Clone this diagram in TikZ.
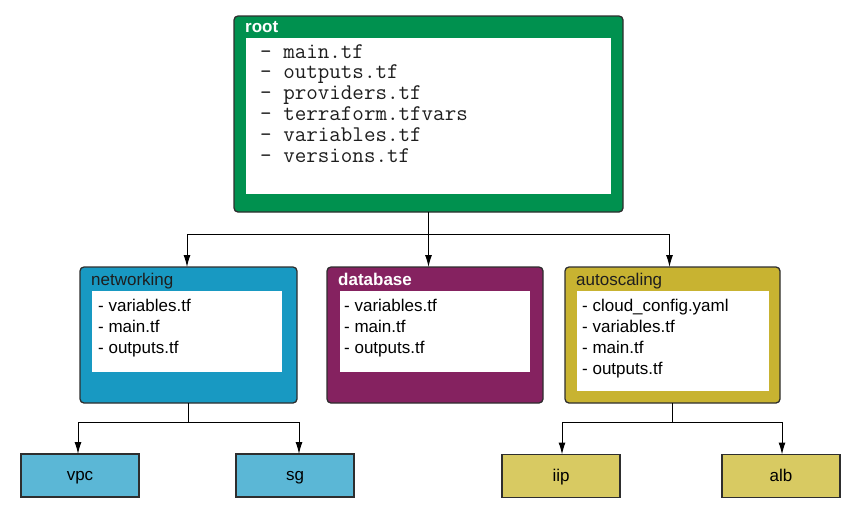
\documentclass[tikz,border=0pt]{standalone}
\usepackage{fontspec}
\setmainfont{Liberation Sans}
\usetikzlibrary{arrows.meta}
\definecolor{rootgreen}{HTML}{00914F}
\definecolor{netblue}{HTML}{1899C2}
\definecolor{dbpurple}{HTML}{852260}
\definecolor{autoolive}{HTML}{C8B331}
\definecolor{leafblue}{HTML}{5BB7D6}
\definecolor{leafolive}{HTML}{D8CA62}
\definecolor{bordergray}{HTML}{2E2E2E}
\definecolor{darktext}{HTML}{1E1E1E}
\begin{document}
\begin{tikzpicture}[x=1pt,y=-1pt,
  module/.style={draw=bordergray, line width=1.3pt, rounded corners=4pt, inner sep=0pt, outer sep=0pt, anchor=north west},
  panel/.style={fill=white, inner sep=0pt, outer sep=0pt, anchor=north west},
  ttl/.style={inner sep=0pt, anchor=base west, font=\fontsize{17}{20}\selectfont},
  sans/.style={inner sep=0pt, anchor=base west, text=black, font=\fontsize{17}{20}\selectfont},
  mono/.style={inner sep=0pt, anchor=base west, text=darktext, font=\ttfamily\fontsize{22.4}{24}\selectfont},
  leaf/.style={draw=bordergray, line width=1.3pt, minimum width=118pt, minimum height=43pt, inner sep=0pt, outer sep=0pt, text height=12.5pt, text depth=2pt, text=black, font=\fontsize{17}{20}\selectfont},
  conn/.style={draw=black, line width=1pt},
  arr/.style={conn, -{Latex[length=12pt,width=7pt]}}
]
\useasboundingbox (0,0) rectangle (853,509);

% root
\node[module, fill=rootgreen, minimum width=389pt, minimum height=196pt] (root) at (234,16) {};
\node[panel, minimum width=365pt, minimum height=156pt] (rootin) at (246,38) {};
\node[ttl, text=white, font=\bfseries\fontsize{17}{20}\selectfont] (roott) at (245,32) {root};
\foreach \t [count=\i] in {main.tf, outputs.tf, providers.tf, terraform.tfvars, variables.tf, versions.tf}
  \node[mono] (rl\i) at (260,{58+20.8*(\i-1)}) {- \t};

% networking
\node[module, fill=netblue, minimum width=217pt, minimum height=136pt] (net) at (80,267) {};
\node[panel, minimum width=190pt, minimum height=81pt] (netin) at (92,291) {};
\node[ttl, text=darktext] (nett) at (91,285) {networking};
\foreach \t [count=\i] in {variables.tf, main.tf, outputs.tf}
  \node[sans] (nl\i) at (98,{311+21*(\i-1)}) {- \t};

% database
\node[module, fill=dbpurple, minimum width=216pt, minimum height=136pt] (db) at (327,267) {};
\node[panel, minimum width=190pt, minimum height=81pt] (dbin) at (340,291) {};
\node[ttl, text=white, font=\bfseries\fontsize{17}{20}\selectfont] (dbt) at (338,285) {database};
\foreach \t [count=\i] in {variables.tf, main.tf, outputs.tf}
  \node[sans] (dl\i) at (344,{311+21*(\i-1)}) {- \t};

% autoscaling
\node[module, fill=autoolive, minimum width=215pt, minimum height=136pt] (auto) at (565,267) {};
\node[panel, minimum width=192pt, minimum height=100pt] (autoin) at (577,291) {};
\node[ttl, text=darktext] (autot) at (576,285) {autoscaling};
\foreach \t [count=\i] in {cloud\_config.yaml, variables.tf, main.tf, outputs.tf}
  \node[sans] (al\i) at (582,{311+21*(\i-1)}) {- \t};

% leaves
\node[leaf, fill=leafblue] (vpc) at (80,475.5) {vpc};
\node[leaf, fill=leafblue] (sg) at (295,475.5) {sg};
\node[leaf, fill=leafolive] (iip) at (561,476) {iip};
\node[leaf, fill=leafolive] (alb) at (781,476) {alb};

% connectors
\coordinate (j1) at (428.5,234);
\draw[conn] (root.south) -- (j1);
\draw[arr] (j1) -| ([xshift=-1.5pt]net.north);
\draw[arr] (j1) -- (j1 |- db.north);
\draw[arr] (j1) -| ([xshift=-3pt]auto.north);

\coordinate (j2) at (188.5,422);
\draw[conn] (net.south) -- (j2);
\draw[arr] (j2) -| ([xshift=-2pt]vpc.north);
\draw[arr] (j2) -| ([xshift=4pt]sg.north);

\coordinate (j3) at (672.5,422);
\draw[conn] (auto.south) -- (j3);
\draw[arr] (j3) -| ([xshift=1pt]iip.north);
\draw[arr] (j3) -| ([xshift=1pt]alb.north);
\end{tikzpicture}
\end{document}
